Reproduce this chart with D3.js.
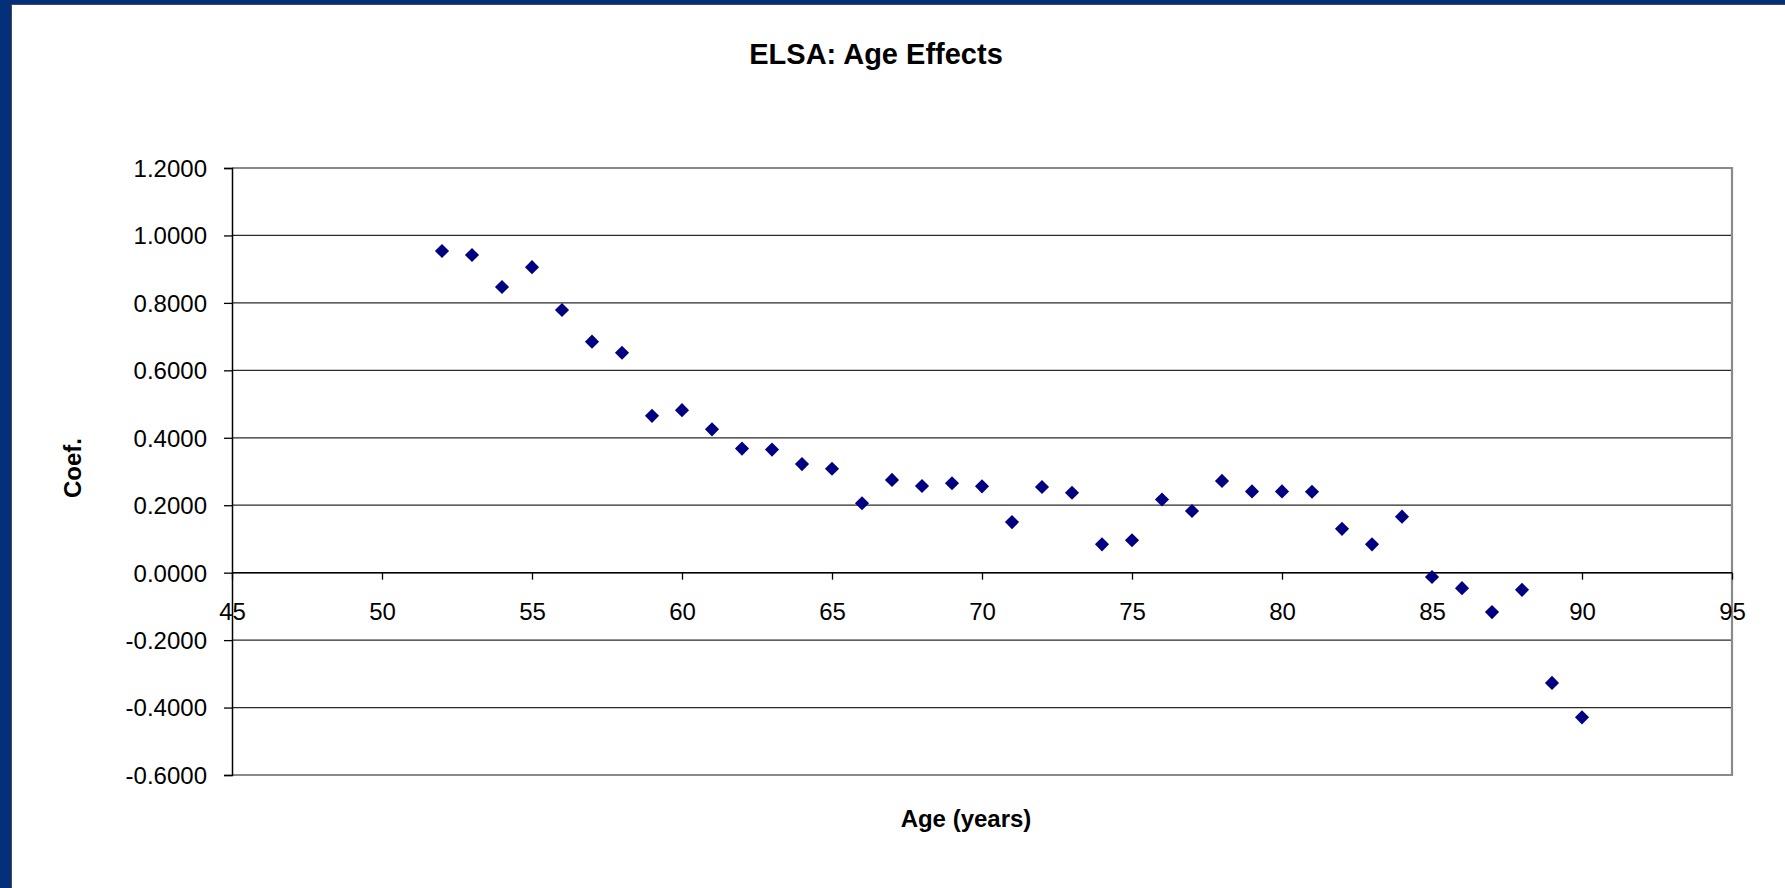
<!DOCTYPE html>
<html>
<head>
<meta charset="utf-8">
<script src="https://cdn.jsdelivr.net/npm/d3@7"></script>
<style>
  html, body { margin: 0; padding: 0; background: #fff; }
  svg { display: block; font-family: "Liberation Sans", Arial, sans-serif; }
</style>
</head>
<body>
<svg id="chart" width="1785" height="888"></svg>
<script>
// Age effect coefficients, ELSA
const ages = [52, 53, 54, 55, 56, 57, 58, 59, 60, 61, 62, 63, 64, 65, 66, 67, 68, 69, 70,
              71, 72, 73, 74, 75, 76, 77, 78, 79, 80, 81, 82, 83, 84, 85, 86, 87, 88, 89, 90];
const coefs = [0.954, 0.942, 0.847, 0.906, 0.779, 0.685, 0.652, 0.465, 0.482, 0.425,
               0.368, 0.365, 0.322, 0.308, 0.206, 0.275, 0.257, 0.265, 0.256, 0.150,
               0.254, 0.237, 0.084, 0.096, 0.217, 0.183, 0.272, 0.241, 0.241, 0.240,
               0.130, 0.084, 0.166, -0.013, -0.046, -0.117, -0.051, -0.327, -0.429];
const xTicks = [45, 50, 55, 60, 65, 70, 75, 80, 85, 90, 95];
const yTicks = [-0.6, -0.4, -0.2, 0.0, 0.2, 0.4, 0.6, 0.8, 1.0, 1.2];

const title = "ELSA: Age Effects";
const xTitle = "Age (years)";
const yTitle = "Coef.";

const svg = d3.select("#chart");
const W = 1785, H = 888;

// slide frame
const frameBlue = "#04307a";
svg.append("rect").attr("width", W).attr("height", H).attr("fill", frameBlue);
svg.append("rect").attr("x", 11).attr("y", 4).attr("width", W - 11).attr("height", H - 4)
  .attr("fill", "#4a4a4a");
svg.append("rect").attr("x", 12).attr("y", 5).attr("width", W - 12).attr("height", H - 5)
  .attr("fill", "#ffffff");

// plot area
const plot = { left: 232, right: 1732, top: 168, bottom: 775 };
const x = d3.scaleLinear().domain([45, 95]).range([plot.left, plot.right]);
const y = d3.scaleLinear().domain([-0.6, 1.2]).range([plot.bottom, plot.top]);

// four decimals, plain hyphen for negatives
const fmt4 = d3.formatLocale({ decimal: ".", thousands: ",", grouping: [3], currency: ["", ""], minus: "-" })
  .format(".4f");

// horizontal gridlines
svg.append("g")
  .selectAll("line")
  .data(yTicks.filter(v => v > -0.6 && v < 1.2))
  .join("line")
  .attr("x1", plot.left).attr("x2", plot.right)
  .attr("y1", d => y(d)).attr("y2", d => y(d))
  .attr("stroke", "#2a2a2a").attr("stroke-width", 1.3);

// plot frame (top, right, bottom)
svg.append("path")
  .attr("d", `M${plot.left},${y(1.2)}H${plot.right}V${y(-0.6)}H${plot.left}`)
  .attr("fill", "none").attr("stroke", "#8a8a8a").attr("stroke-width", 2.2);

// y axis
const yAxis = d3.axisLeft(y)
  .tickValues(yTicks)
  .tickFormat(fmt4)
  .tickSize(8)
  .tickPadding(17);
const gy = svg.append("g").attr("transform", `translate(${plot.left},0)`).call(yAxis);
gy.select(".domain").attr("stroke", "#000").attr("stroke-width", 1.5);
gy.selectAll(".tick line").attr("stroke", "#000").attr("stroke-width", 1.3);
gy.selectAll(".tick text")
  .attr("font-size", 24).attr("fill", "#000").attr("dy", "0.35em")
  .attr("font-family", "Liberation Sans, Arial, sans-serif");

// x axis crossing at zero
const xAxis = d3.axisBottom(x)
  .tickValues(xTicks)
  .tickFormat(d3.format("d"))
  .tickSize(7)
  .tickPadding(23);
const gx = svg.append("g").attr("transform", `translate(0,${y(0)})`).call(xAxis);
gx.select(".domain").attr("stroke", "#000").attr("stroke-width", 1.5)
  .attr("d", `M${plot.left},0H${plot.right}`);
gx.selectAll(".tick line").attr("stroke", "#000").attr("stroke-width", 1.3);
gx.selectAll(".tick text")
  .attr("font-size", 24).attr("fill", "#000")
  .attr("font-family", "Liberation Sans, Arial, sans-serif");

// data markers: navy diamonds
const diamond = d3.symbol().type(d3.symbolSquare).size(100);
svg.append("g")
  .selectAll("path")
  .data(ages.map((a, i) => ({ age: a, coef: coefs[i] })))
  .join("path")
  .attr("d", diamond)
  .attr("transform", d => `translate(${x(d.age)},${y(d.coef)}) rotate(45)`)
  .attr("fill", "#000080");

// titles
svg.append("text")
  .attr("x", 876).attr("y", 64)
  .attr("text-anchor", "middle")
  .attr("font-size", 29).attr("font-weight", "bold").attr("fill", "#000")
  .text(title);

svg.append("text")
  .attr("x", 966).attr("y", 827)
  .attr("text-anchor", "middle")
  .attr("font-size", 24).attr("font-weight", "bold").attr("fill", "#000")
  .text(xTitle);

svg.append("text")
  .attr("transform", "translate(81,468) rotate(-90)")
  .attr("text-anchor", "middle")
  .attr("font-size", 24).attr("font-weight", "bold").attr("fill", "#000")
  .text(yTitle);
</script>
</body>
</html>
